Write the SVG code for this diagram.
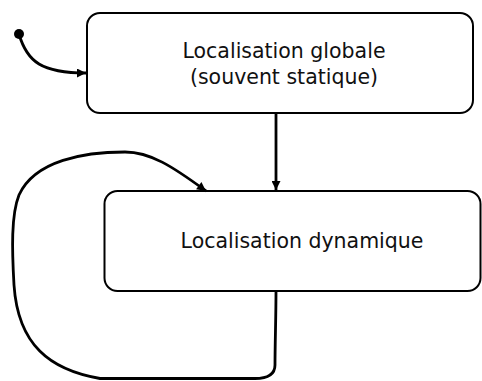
<svg xmlns="http://www.w3.org/2000/svg" width="482" height="381" viewBox="0 0 482 381">
  <defs>
    <style>
      .box { fill: #ffffff; stroke: #000000; stroke-width: 2; }
      .label { font-family: "DejaVu Sans", Verdana, sans-serif; font-size: 20.5px; fill: #111111; }
      .conn { fill: none; stroke: #000000; stroke-width: 2.8; }
    </style>
    <marker id="arrow" viewBox="0 0 10 10" refX="10" refY="5" markerWidth="11" markerHeight="9" markerUnits="userSpaceOnUse" orient="auto">
      <path d="M0,0 L10,5 L0,10 Z" fill="#000000"/>
    </marker>
  </defs>
  <g id="node-globale">
    <rect class="box" x="87" y="13" width="386" height="100" rx="13" ry="13"/>
    <text class="label" x="284" y="58" text-anchor="middle">Localisation globale</text>
    <text class="label" x="284" y="84" text-anchor="middle">(souvent statique)</text>
  </g>
  <g id="node-dynamique">
    <rect class="box" x="104.5" y="191" width="376" height="100" rx="13" ry="13"/>
    <text class="label" x="302" y="248" text-anchor="middle">Localisation dynamique</text>
  </g>
  <g id="connectors">
    <circle cx="19" cy="34" r="5" fill="#000000"/>
    <path class="conn" d="M19,34 C27,62 42,73 86,73" marker-end="url(#arrow)"/>
    <path class="conn" d="M276,113 L276,190" marker-end="url(#arrow)"/>
    <path class="conn" d="M276,292 C276,315 275,345 275,365 C275,374 268,378.5 255,378.5 L100,378.5 C50,370 18,345 14,285 C12,250 11,215 19,195 C35,160 85,152 125,152 C150,152 172,166 206,191" marker-end="url(#arrow)"/>
  </g>
</svg>
